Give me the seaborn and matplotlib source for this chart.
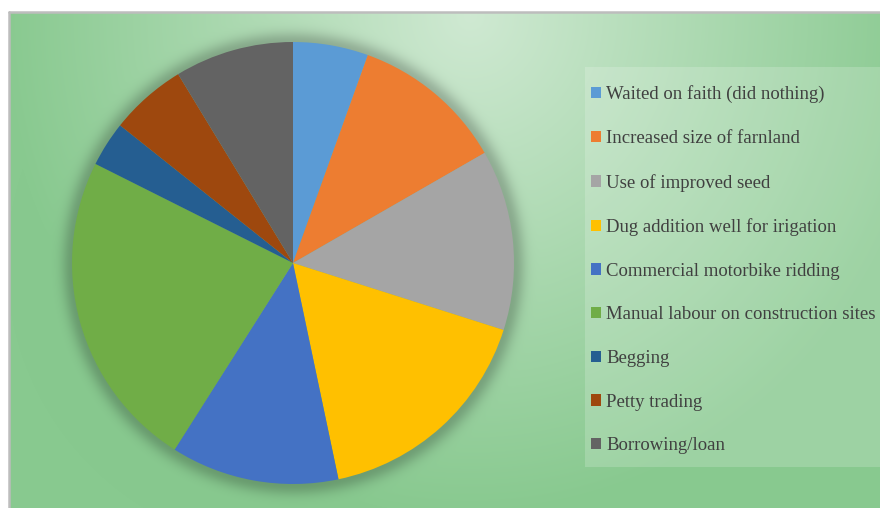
import numpy as np
import matplotlib
matplotlib.use("Agg")
import matplotlib.pyplot as plt
from matplotlib.patches import Rectangle
from matplotlib.lines import Line2D
import seaborn as sns

# coping strategies and their share (%)
strategies = [
    "Waited on faith (did nothing)",
    "Increased size of farnland",
    "Use of improved seed",
    "Dug addition well for irigation",
    "Commercial motorbike ridding",
    "Manual labour on construction sites",
    "Begging",
    "Petty trading",
    "Borrowing/loan",
]
shares = [5.5, 11.2, 13.2, 16.8, 12.3, 23.4, 3.3, 5.6, 8.7]
slice_colors = ["#5B9BD5", "#ED7D31", "#A5A5A5", "#FFC000", "#4472C4",
                "#70AD47", "#255E91", "#9E480E", "#636363"]

W, H = 880, 508
sns.set_theme(style="white")
plt.rcParams["font.family"] = ["Liberation Serif", "DejaVu Serif"]

fig = plt.figure(figsize=(W / 100, H / 100), dpi=100)

# background: radial green gradient with a soft shadow under the pie
yy, xx = np.mgrid[0:H, 0:W].astype(float)
light = np.array([207, 233, 210]) / 255
dark = np.array([136, 201, 143]) / 255
r = np.sqrt(((xx - 470) / 470) ** 2 + ((yy - 15) / 500) ** 2)
t = np.clip(r, 0, 1)[..., None]
bg = light * (1 - t) + dark * t
cx, cy, rad = 293, 263, 221
d = np.sqrt((xx - cx) ** 2 + (yy - cy) ** 2) - rad
shade = 0.22 * np.exp(-(np.clip(d, 0, None) / 11) ** 2)
bg = bg * (1 - shade[..., None])
bg[:12, :] = 1.0
bg[:, :9] = 1.0
bax = fig.add_axes([0, 0, 1, 1])
bax.imshow(bg, aspect="auto", extent=(0, W, H, 0), interpolation="bilinear")
bax.set_xlim(0, W)
bax.set_ylim(H, 0)
bax.axis("off")
bax.add_line(Line2D([9, W], [12, 12], color="#bdbdbd", lw=1.8))
bax.add_line(Line2D([9, 9], [12, H], color="#bdbdbd", lw=1.8))
# lighter legend panel
bax.add_patch(Rectangle((585, 67), W - 585, 400, facecolor="white",
                        alpha=0.18, edgecolor="none"))

# the pie
ax = fig.add_axes([(cx - rad) / W, (H - cy - rad) / H, 2 * rad / W, 2 * rad / H])
wedges, _ = ax.pie(shares, colors=slice_colors, startangle=90,
                   counterclock=False, radius=1,
                   wedgeprops=dict(linewidth=0))
ax.set_xlim(-1, 1)
ax.set_ylim(-1, 1)
ax.axis("off")

fig.legend(wedges, strategies, loc="upper left",
           bbox_to_anchor=(583 / W, 1 - 78 / H), frameon=False,
           fontsize=13.5, labelcolor="#404040", handlelength=0.55,
           handleheight=0.55, handletextpad=0.28, labelspacing=1.42,
           borderaxespad=0)

fig.savefig("out.png", dpi=100)
